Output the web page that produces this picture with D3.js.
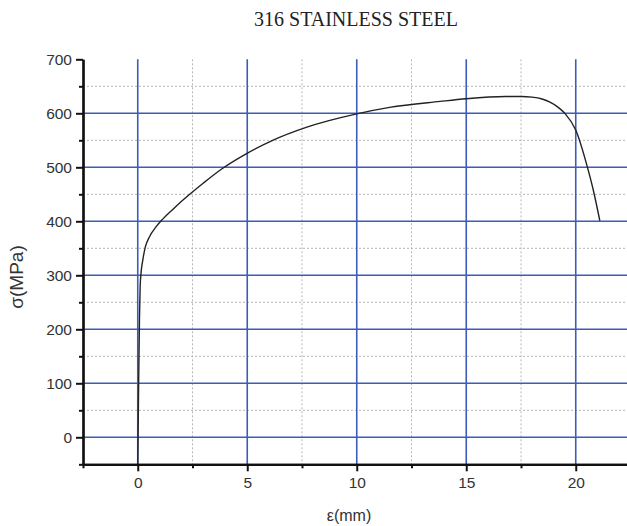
<!DOCTYPE html>
<html lang="en">
<head>
    <meta charset="UTF-8">
    <title>316 Stainless Steel</title>
    <script src="https://d3js.org/d3.v7.min.js"></script>
    <style>
        body { margin: 0; background: #fff; }
        svg { display: block; }
    </style>
</head>
<body>
    <div id="chart"></div>
    <script>
        // values
        var strain = [0, 0.03, 0.05, 0.08, 0.11, 0.15, 0.23, 0.35, 0.53, 0.84, 1.14, 1.6, 2.0, 2.4, 3.0, 3.8, 4.95, 6.16, 7.69, 10.0, 11.5, 13.8, 15.0, 16.8, 17.5, 18.0, 18.5, 18.8, 19.2, 19.5, 20.0, 20.5, 20.8, 21.1];
        var stress = [-50, 60, 131, 223, 279, 304, 328, 353, 371, 390, 404, 422, 437, 451, 471, 496, 525, 550, 574, 599, 611, 622, 627, 631, 631, 630, 626, 621, 611, 600, 569, 505, 458, 401];
        var xMajor = [0, 5, 10, 15, 20];
        var xMinor = [-2.5, 2.5, 7.5, 12.5, 17.5, 22.5];
        var yMajor = [0, 100, 200, 300, 400, 500, 600, 700];
        var yMinor = [-50, 50, 150, 250, 350, 450, 550, 650];

        var width = 627, height = 526;
        var svg = d3.select("#chart").append("svg")
            .attr("width", width)
            .attr("height", height);

        var x = d3.scaleLinear().domain([-2.5, 22.5]).range([83, 630.5]);
        var y = d3.scaleLinear().domain([-50, 700]).range([464.3, 59.3]);

        var blue = "#3d5cb8";

        // dotted minor grid
        svg.selectAll(".gx2").data(xMinor.slice(1)).enter().append("line")
            .attr("x1", d => x(d)).attr("x2", d => x(d))
            .attr("y1", y(700)).attr("y2", y(-50))
            .attr("stroke", "#b5b5b5").attr("stroke-width", 1)
            .attr("stroke-dasharray", "2,2");
        svg.selectAll(".gy2").data(yMinor.slice(1)).enter().append("line")
            .attr("x1", x(-2.5)).attr("x2", width)
            .attr("y1", d => y(d)).attr("y2", d => y(d))
            .attr("stroke", "#b5b5b5").attr("stroke-width", 1)
            .attr("stroke-dasharray", "2,2");

        // major grid in blue
        svg.selectAll(".gx").data(xMajor).enter().append("line")
            .attr("x1", d => x(d)).attr("x2", d => x(d))
            .attr("y1", y(700)).attr("y2", y(-50))
            .attr("stroke", blue).attr("stroke-width", 1.6);
        svg.selectAll(".gy").data(yMajor.slice(0, 7)).enter().append("line")
            .attr("x1", x(-2.5)).attr("x2", width)
            .attr("y1", d => y(d)).attr("y2", d => y(d))
            .attr("stroke", blue).attr("stroke-width", 1.6);

        // stress-strain curve
        var line = d3.line()
            .x(d => x(d[0]))
            .y(d => y(d[1]))
            .curve(d3.curveMonotoneX);
        svg.append("path")
            .datum(d3.zip(strain, stress))
            .attr("d", line)
            .attr("fill", "none")
            .attr("stroke", "#222")
            .attr("stroke-width", 1.4);

        // axes
        svg.append("g")
            .attr("transform", "translate(0," + y(-50) + ")")
            .call(d3.axisBottom(x).tickValues(xMajor).tickSize(7).tickSizeOuter(0).tickPadding(6));
        svg.append("g")
            .attr("transform", "translate(0," + y(-50) + ")")
            .call(d3.axisBottom(x).tickValues(xMinor).tickSize(4).tickSizeOuter(0).tickFormat(""));
        svg.append("g")
            .attr("transform", "translate(" + x(-2.5) + ",0)")
            .call(d3.axisLeft(y).tickValues(yMajor).tickSize(7).tickSizeOuter(0).tickPadding(4));
        svg.append("g")
            .attr("transform", "translate(" + x(-2.5) + ",0)")
            .call(d3.axisLeft(y).tickValues(yMinor).tickSize(4).tickSizeOuter(0).tickFormat(""));

        svg.selectAll(".domain").attr("stroke", "#111").attr("stroke-width", 2.2);
        svg.selectAll(".tick line").attr("stroke", "#111").attr("stroke-width", 2);
        svg.selectAll(".tick text")
            .attr("font-family", "Liberation Sans, Arial, sans-serif")
            .attr("font-size", 15.5)
            .attr("fill", "#333");

        // titles
        svg.append("text")
            .attr("x", 356).attr("y", 26)
            .attr("text-anchor", "middle")
            .attr("font-family", "Liberation Serif, serif")
            .attr("font-size", 20)
            .attr("fill", "#222")
            .text("316 STAINLESS STEEL");

        svg.append("text")
            .attr("x", 349).attr("y", 521)
            .attr("text-anchor", "middle")
            .attr("font-family", "Liberation Sans, Arial, sans-serif")
            .attr("font-size", 16)
            .attr("fill", "#333")
            .text("ε(mm)");

        svg.append("text")
            .attr("transform", "translate(23,277) rotate(-90)")
            .attr("text-anchor", "middle")
            .attr("font-family", "Liberation Sans, Arial, sans-serif")
            .attr("font-size", 19)
            .attr("fill", "#333")
            .text("σ(MPa)");
    </script>
</body>
</html>
